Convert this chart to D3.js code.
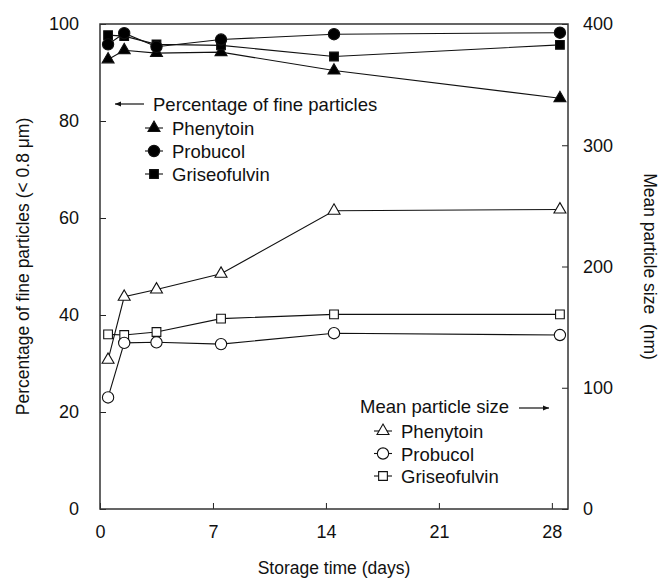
<!doctype html>
<html lang="en">
<head>
    <meta charset="UTF-8">
    <title>Fine particles vs storage time</title>
    <script src="https://cdnjs.cloudflare.com/ajax/libs/d3/7.8.5/d3.min.js"></script>
    <style>
        html, body {
            margin: 0;
            padding: 0;
            background: #fff;
            overflow: hidden;
        }
        text {
            font-family: "Liberation Sans", Arial, sans-serif;
            fill: #111;
        }
    </style>
</head>
<body>
<svg id="chart" width="659" height="579"></svg>
<script>
    // storage days where samples were measured
    const days = [0.5, 1.5, 3.5, 7.5, 14.5, 28.5];

    // percentage of fine particles (< 0.8 um), left axis
    const finePhenytoin = [92.7, 94.6, 94.0, 94.2, 90.4, 84.7];
    const fineProbucol = [95.8, 98.1, 95.3, 96.8, 97.9, 98.2];
    const fineGriseofulvin = [97.7, 97.5, 95.8, 95.6, 93.3, 95.7];

    // mean particle size (nm), right axis
    const sizePhenytoin = [123, 175, 181, 194, 246, 247];
    const sizeProbucol = [92, 137, 137.5, 136, 145, 143.5];
    const sizeGriseofulvin = [144, 143.5, 146, 157, 160.5, 160.5];

    const xTicks = [0, 7, 14, 21, 28];
    const leftTicks = [0, 20, 40, 60, 80, 100];
    const rightTicks = [0, 100, 200, 300, 400];

    const svg = d3.select("#chart");
    const margin = {top: 24, right: 91, bottom: 70, left: 100};
    const width = 659 - margin.left - margin.right;
    const height = 579 - margin.top - margin.bottom;

    const x = d3.scaleLinear().domain([0, 29]).range([0, width]);
    const yLeft = d3.scaleLinear().domain([0, 100]).range([height, 0]);
    const yRight = d3.scaleLinear().domain([0, 400]).range([height, 0]);

    const g = svg.append("g")
        .attr("transform", "translate(" + margin.left + "," + margin.top + ")");

    // axes with inward ticks
    const styleAxis = (sel) => {
        sel.select(".domain").remove();
        sel.selectAll(".tick line").attr("stroke", "#222");
        sel.selectAll(".tick text").style("font-size", "18px").attr("fill", "#111");
    };

    g.append("g")
        .attr("transform", "translate(0," + height + ")")
        .call(d3.axisBottom(x).tickValues(xTicks).tickSizeInner(-6).tickSizeOuter(0).tickPadding(16))
        .call(styleAxis);

    g.append("g")
        .call(d3.axisLeft(yLeft).tickValues(leftTicks).tickSizeInner(-6).tickSizeOuter(0).tickPadding(21))
        .call(styleAxis);

    g.append("g")
        .attr("transform", "translate(" + width + ",0)")
        .call(d3.axisRight(yRight).tickValues(rightTicks).tickSizeInner(-6).tickSizeOuter(0).tickPadding(15))
        .call(styleAxis);

    // frame
    g.append("rect")
        .attr("width", width)
        .attr("height", height)
        .attr("fill", "none")
        .attr("stroke", "#333")
        .attr("stroke-width", 1.5);

    // axis titles
    svg.append("text")
        .attr("transform", "translate(29," + (margin.top + height / 2) + ") rotate(-90)")
        .attr("text-anchor", "middle")
        .style("font-size", "17.5px")
        .text("Percentage of fine particles (< 0.8 μm)");

    svg.append("text")
        .attr("transform", "translate(644," + (margin.top + height / 2) + ") rotate(90)")
        .attr("text-anchor", "middle")
        .style("font-size", "17.5px")
        .text("Mean particle size\u00a0\u00a0(nm)");

    svg.append("text")
        .attr("x", margin.left + x(14.5))
        .attr("y", 574)
        .attr("text-anchor", "middle")
        .style("font-size", "17.5px")
        .text("Storage time (days)");

    const symbols = {
        tri: d3.symbol().type(d3.symbolTriangle).size(62),
        circ: d3.symbol().type(d3.symbolCircle).size(100),
        sq: d3.symbol().type(d3.symbolSquare).size(76)
    };

    const series = [
        {values: sizePhenytoin, y: yRight, sym: "tri", fill: "#fff"},
        {values: sizeGriseofulvin, y: yRight, sym: "sq", fill: "#fff"},
        {values: sizeProbucol, y: yRight, sym: "circ", fill: "#fff"},
        {values: finePhenytoin, y: yLeft, sym: "tri", fill: "#000"},
        {values: fineGriseofulvin, y: yLeft, sym: "sq", fill: "#000"},
        {values: fineProbucol, y: yLeft, sym: "circ", fill: "#000"}
    ];

    const line = (yScale) => d3.line()
        .x((d, i) => x(days[i]))
        .y(d => yScale(d));

    series.forEach(s => {
        g.append("path")
            .datum(s.values)
            .attr("fill", "none")
            .attr("stroke", "#111")
            .attr("stroke-width", 1.1)
            .attr("d", line(s.y));
    });

    series.forEach(s => {
        g.selectAll(null)
            .data(s.values)
            .enter().append("path")
            .attr("transform", (d, i) => "translate(" + x(days[i]) + "," + s.y(d) + ")")
            .attr("d", symbols[s.sym])
            .attr("fill", s.fill)
            .attr("stroke", "#111")
            .attr("stroke-width", 1.1);
    });

    // legends
    const arrow = (x1, x2, yy) => {
        svg.append("line")
            .attr("x1", x1).attr("x2", x2).attr("y1", yy).attr("y2", yy)
            .attr("stroke", "#111").attr("stroke-width", 1.2);
        const dir = x2 > x1 ? 1 : -1;
        svg.append("path")
            .attr("d", "M" + x2 + "," + yy + "l" + (-6 * dir) + ",-2.5l0,5z")
            .attr("fill", "#111");
    };

    const legendRow = (cx, cy, sym, fill, label) => {
        svg.append("line")
            .attr("x1", cx - 9).attr("x2", cx + 9).attr("y1", cy).attr("y2", cy)
            .attr("stroke", "#111").attr("stroke-width", 1.1);
        svg.append("path")
            .attr("transform", "translate(" + cx + "," + cy + ")")
            .attr("d", symbols[sym])
            .attr("fill", fill)
            .attr("stroke", "#111")
            .attr("stroke-width", 1.1);
        svg.append("text")
            .attr("x", cx + 18)
            .attr("y", cy + 7)
            .style("font-size", "18.5px")
            .text(label);
    };

    const names = ["Phenytoin", "Probucol", "Griseofulvin"];
    const syms = ["tri", "circ", "sq"];

    arrow(144, 115, 104);
    svg.append("text")
        .attr("x", 153).attr("y", 111)
        .style("font-size", "18.5px")
        .text("Percentage of fine particles");
    names.forEach((n, i) => legendRow(154, 128 + i * 23, syms[i], "#000", n));

    svg.append("text")
        .attr("x", 360).attr("y", 413)
        .style("font-size", "18.5px")
        .text("Mean particle size");
    arrow(519, 549, 408);
    names.forEach((n, i) => legendRow(383, 431 + i * 22.5, syms[i], "#fff", n));
</script>
</body>
</html>
